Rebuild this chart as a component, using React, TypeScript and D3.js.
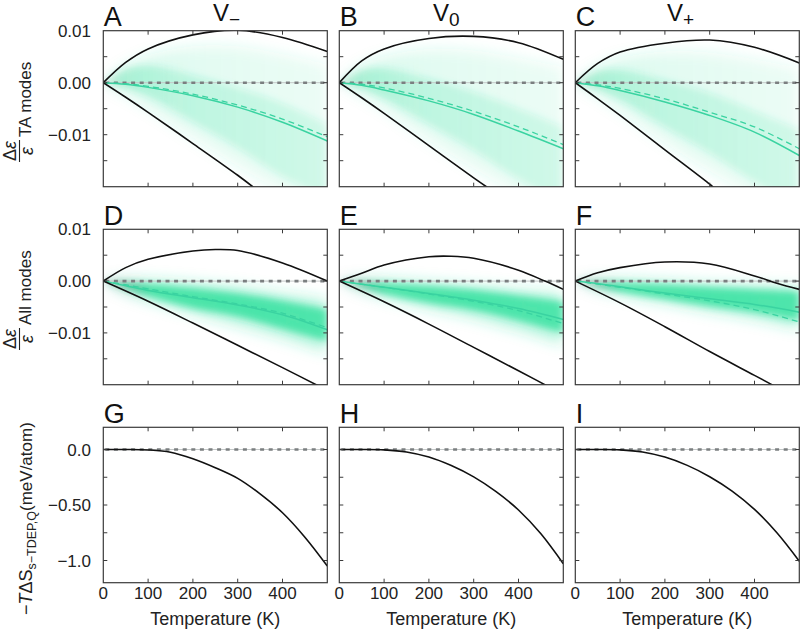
import React from 'react';
import * as d3 from 'd3';

type Pt = [number, number];

// ---------------- data ----------------
const tempTicks = [0, 100, 200, 300, 400, 500];
const tempTickLabels = ['0', '100', '200', '300', '400'];
const strainTicks = [-0.015, -0.01, -0.005, 0, 0.005];
const strainLabelValues = [0.01, 0, -0.01];
const strainLabels = ['0.01', '0.00', '−0.01'];
const entropyTicks = [-1.0, -0.75, -0.5, -0.25, 0];
const entropyLabelValues = [0, -0.5, -1.0];
const entropyLabels = ['0.0', '−0.50', '−1.0'];
const panelLetters = ['A', 'B', 'C', 'D', 'E', 'F', 'G', 'H', 'I'];
const volumeSubscripts = ['−', '0', '+'];
const modeLabels = ['TA modes', 'All modes'];

// TA modes (row 1)
const upperA: Pt[] = [[0, 0], [50, 0.0039], [100, 0.0065], [200, 0.0092], [300, 0.0101], [400, 0.0087], [500, 0.006]];
const lowerA: Pt[] = [[0, 0], [50, -0.0028], [100, -0.0057], [200, -0.0117], [300, -0.0178], [335, -0.0201]];
const meanA: Pt[] = [[0, 0], [50, -0.0003], [100, -0.0009], [200, -0.0025], [300, -0.0047], [400, -0.0076], [500, -0.0112]];
const meanDashA: Pt[] = [[0, 0], [50, -0.0002], [100, -0.0007], [200, -0.0022], [300, -0.0043], [400, -0.007], [500, -0.0104]];
const outerHiA: Pt[] = [[0, 0], [50, 0.0032], [100, 0.0052], [200, 0.007], [300, 0.007], [400, 0.0055], [500, 0.0035]];
const outerLoA: Pt[] = [[0, 0], [50, -0.0022], [100, -0.0048], [200, -0.0105], [300, -0.016], [400, -0.021], [500, -0.025]];
const coreHiA: Pt[] = [[0, 0], [50, 0.0027], [100, 0.0032], [200, 0.0015], [300, -0.001], [400, -0.004], [500, -0.008]];
const coreLoA: Pt[] = [[0, 0], [50, -0.001], [100, -0.0025], [200, -0.0075], [300, -0.0125], [400, -0.018], [500, -0.022]];

const upperB: Pt[] = [[0, 0], [50, 0.0042], [100, 0.0065], [200, 0.0085], [300, 0.0089], [400, 0.0077], [500, 0.0045]];
const lowerB: Pt[] = [[0, 0], [50, -0.0029], [100, -0.0059], [200, -0.0121], [300, -0.0183], [330, -0.0201]];
const meanB: Pt[] = [[0, 0], [50, -0.0005], [100, -0.0014], [200, -0.0035], [300, -0.0061], [400, -0.0093], [500, -0.0127]];
const meanDashB: Pt[] = [[0, 0], [50, -0.0003], [100, -0.001], [200, -0.003], [300, -0.0055], [400, -0.0085], [500, -0.0119]];
const outerHiB: Pt[] = [[0, 0], [50, 0.0033], [100, 0.005], [200, 0.0065], [300, 0.0062], [400, 0.0048], [500, 0.003]];
const outerLoB: Pt[] = [[0, 0], [50, -0.0023], [100, -0.005], [200, -0.011], [300, -0.0165], [400, -0.0215], [500, -0.026]];
const coreHiB: Pt[] = [[0, 0], [50, 0.0024], [100, 0.0027], [200, 0.0008], [300, -0.0018], [400, -0.005], [500, -0.0085]];
const coreLoB: Pt[] = [[0, 0], [50, -0.0012], [100, -0.003], [200, -0.008], [300, -0.013], [400, -0.0185], [500, -0.023]];

const upperC: Pt[] = [[0, 0], [50, 0.0037], [100, 0.0059], [200, 0.0076], [300, 0.0082], [400, 0.0068], [500, 0.0038]];
const lowerC: Pt[] = [[0, 0], [50, -0.0031], [100, -0.0063], [200, -0.0129], [300, -0.0195], [308, -0.0201]];
const meanC: Pt[] = [[0, 0], [50, -0.0006], [100, -0.0015], [200, -0.0037], [300, -0.0063], [400, -0.0095], [500, -0.014]];
const meanDashC: Pt[] = [[0, 0], [50, -0.0004], [100, -0.0011], [200, -0.0031], [300, -0.0057], [400, -0.0085], [500, -0.0127]];
const outerHiC: Pt[] = [[0, 0], [50, 0.003], [100, 0.0047], [200, 0.006], [300, 0.0058], [400, 0.0045], [500, 0.0028]];
const outerLoC: Pt[] = [[0, 0], [50, -0.0025], [100, -0.0053], [200, -0.0115], [300, -0.017], [400, -0.022], [500, -0.027]];
const coreHiC: Pt[] = [[0, 0], [50, 0.0022], [100, 0.0024], [200, 0.0005], [300, -0.002], [400, -0.0055], [500, -0.009]];
const coreLoC: Pt[] = [[0, 0], [50, -0.0013], [100, -0.0032], [200, -0.0085], [300, -0.0135], [400, -0.019], [500, -0.024]];

// All modes (row 2)
const upperD: Pt[] = [[0, 0], [50, 0.0026], [100, 0.0042], [200, 0.0058], [250, 0.0061], [300, 0.0059], [400, 0.0035], [500, 0.0]];
const lowerD: Pt[] = [[0, 0], [100, -0.0039], [200, -0.0081], [300, -0.0124], [400, -0.0167], [500, -0.0211]];
const meanD: Pt[] = [[0, 0], [50, -0.0009], [100, -0.0018], [200, -0.0032], [300, -0.0046], [400, -0.0065], [500, -0.0094]];
const meanDashD: Pt[] = [[0, 0], [50, -0.0007], [100, -0.0015], [200, -0.003], [300, -0.0044], [400, -0.0062], [500, -0.009]];
const outerHiD: Pt[] = [[0, 0], [50, 0.0004], [100, 0.0003], [200, -0.0003], [300, -0.0011], [400, -0.0024], [500, -0.0037]];
const outerLoD: Pt[] = [[0, 0], [50, -0.0022], [100, -0.0037], [200, -0.0062], [300, -0.0085], [400, -0.011], [500, -0.0138]];
const coreHiD: Pt[] = [[0, 0], [50, -0.0003], [100, -0.0006], [200, -0.0014], [300, -0.0024], [400, -0.0038], [500, -0.0055]];
const coreLoD: Pt[] = [[0, 0], [50, -0.0015], [100, -0.0029], [200, -0.0052], [300, -0.0068], [400, -0.0092], [500, -0.0116]];

const upperE: Pt[] = [[0, 0], [50, 0.0015], [100, 0.0031], [200, 0.0047], [250, 0.0048], [300, 0.0044], [400, 0.0021], [459, 0.0], [500, -0.0016]];
const lowerE: Pt[] = [[0, 0], [100, -0.004], [200, -0.0083], [300, -0.0128], [400, -0.0173], [500, -0.0219]];
const meanE: Pt[] = [[0, 0], [50, -0.0006], [100, -0.0012], [200, -0.0024], [300, -0.0037], [400, -0.0053], [500, -0.0074]];
const meanDashE: Pt[] = [[0, 0], [50, -0.0006], [100, -0.0012], [200, -0.0025], [300, -0.0039], [400, -0.0057], [500, -0.0082]];
const outerHiE: Pt[] = [[0, 0], [50, 0.0004], [100, 0.0004], [200, -0.0002], [300, -0.0008], [400, -0.0016], [500, -0.0024]];
const outerLoE: Pt[] = [[0, 0], [50, -0.0018], [100, -0.0031], [200, -0.0052], [300, -0.0071], [400, -0.0095], [500, -0.0122]];
const coreHiE: Pt[] = [[0, 0], [50, -0.0002], [100, -0.0004], [200, -0.001], [300, -0.0017], [400, -0.0028], [500, -0.004]];
const coreLoE: Pt[] = [[0, 0], [50, -0.0012], [100, -0.0024], [200, -0.0042], [300, -0.0056], [400, -0.0076], [500, -0.01]];

const upperF: Pt[] = [[0, 0], [50, 0.0016], [100, 0.0026], [200, 0.0037], [300, 0.0033], [400, 0.001], [450, -0.0004], [500, -0.0016]];
const lowerF: Pt[] = [[0, 0], [100, -0.0042], [200, -0.0088], [300, -0.0136], [400, -0.0182], [500, -0.0228]];
const meanF: Pt[] = [[0, 0], [50, -0.0005], [100, -0.0011], [200, -0.0023], [300, -0.0034], [400, -0.0045], [500, -0.006]];
const meanDashF: Pt[] = [[0, 0], [50, -0.0006], [100, -0.0012], [200, -0.0025], [300, -0.0038], [400, -0.0055], [500, -0.0079]];
const outerHiF: Pt[] = [[0, 0], [50, 0.0004], [100, 0.0004], [200, 0.0], [300, -0.0005], [400, -0.0008], [500, -0.0011]];
const outerLoF: Pt[] = [[0, 0], [50, -0.0016], [100, -0.0026], [200, -0.0042], [300, -0.0058], [400, -0.0073], [500, -0.0092]];
const coreHiF: Pt[] = [[0, 0], [50, -0.0002], [100, -0.0003], [200, -0.0007], [300, -0.0012], [400, -0.0016], [500, -0.002]];
const coreLoF: Pt[] = [[0, 0], [50, -0.0011], [100, -0.002], [200, -0.0034], [300, -0.0048], [400, -0.006], [500, -0.0076]];

// Entropy (row 3)
const entropyG: Pt[] = [[0, 0], [50, 0], [100, -0.004], [150, -0.024], [200, -0.083], [250, -0.164], [300, -0.26], [350, -0.4], [400, -0.57], [450, -0.79], [500, -1.05]];
const entropyH: Pt[] = [[0, 0], [50, 0], [100, -0.003], [150, -0.022], [200, -0.068], [250, -0.145], [300, -0.247], [350, -0.38], [400, -0.545], [450, -0.76], [500, -1.03]];
const entropyI: Pt[] = [[0, 0], [50, 0], [100, -0.003], [150, -0.022], [200, -0.068], [250, -0.143], [300, -0.245], [350, -0.375], [400, -0.54], [450, -0.75], [500, -1.006]];

// ---------------- layout ----------------
const W = 224;
const colX = [103.3, 339.3, 575.3];
const rowY = [30.7, 229.3, 427.3];
const rowH = [156, 155.4, 155.4];
const fracCenter = [151, 339];
const titleX = [213, 433, 667];
const FONT = 'Liberation Sans, Arial, sans-serif';
const GREEN = '#2ee09c';
const LINE_GREEN = '#3ad3a1';
const FRAME = '#3a3a3a';
const curve = d3.curveCatmullRom.alpha(0.5);

interface EpsPanel {
  upper: Pt[]; lower: Pt[]; mean: Pt[]; meanDash: Pt[];
  outerHi: Pt[]; outerLo: Pt[]; coreHi: Pt[]; coreLo: Pt[];
}

const epsPanels: EpsPanel[][] = [
  [
    { upper: upperA, lower: lowerA, mean: meanA, meanDash: meanDashA, outerHi: outerHiA, outerLo: outerLoA, coreHi: coreHiA, coreLo: coreLoA },
    { upper: upperB, lower: lowerB, mean: meanB, meanDash: meanDashB, outerHi: outerHiB, outerLo: outerLoB, coreHi: coreHiB, coreLo: coreLoB },
    { upper: upperC, lower: lowerC, mean: meanC, meanDash: meanDashC, outerHi: outerHiC, outerLo: outerLoC, coreHi: coreHiC, coreLo: coreLoC },
  ],
  [
    { upper: upperD, lower: lowerD, mean: meanD, meanDash: meanDashD, outerHi: outerHiD, outerLo: outerLoD, coreHi: coreHiD, coreLo: coreLoD },
    { upper: upperE, lower: lowerE, mean: meanE, meanDash: meanDashE, outerHi: outerHiE, outerLo: outerLoE, coreHi: coreHiE, coreLo: coreLoE },
    { upper: upperF, lower: lowerF, mean: meanF, meanDash: meanDashF, outerHi: outerHiF, outerLo: outerLoF, coreHi: coreHiF, coreLo: coreLoF },
  ],
];
const entropyPanels = [entropyG, entropyH, entropyI];

function Frame({ x, y, xTicks, yTicks }: { x: d3.ScaleLinear<number, number>; y: d3.ScaleLinear<number, number>; xTicks: number[]; yTicks: number[] }) {
  const [x0, x1] = x.range();
  const [y1, y0] = y.range();
  const L = 4;
  return (
    <g stroke={FRAME} strokeWidth={1}>
      {xTicks.map((t, i) => (
        <g key={'x' + i}>
          <line x1={x(t)} x2={x(t)} y1={y1} y2={y1 - L} />
          <line x1={x(t)} x2={x(t)} y1={y0} y2={y0 + L} />
        </g>
      ))}
      {yTicks.map((t, i) => (
        <g key={'y' + i}>
          <line x1={x0} x2={x0 + L} y1={y(t)} y2={y(t)} />
          <line x1={x1} x2={x1 - L} y1={y(t)} y2={y(t)} />
        </g>
      ))}
      <rect x={x0} y={y0} width={x1 - x0} height={y1 - y0} fill="none" strokeWidth={1.2} />
    </g>
  );
}

function ZeroLine({ x, yv }: { x: d3.ScaleLinear<number, number>; yv: number }) {
  const [x0, x1] = x.range();
  return (
    <g>
      <line x1={x0} x2={x1} y1={yv} y2={yv} stroke="#c4c8c8" strokeWidth={1} />
      <line x1={x0 + 2} x2={x1} y1={yv} y2={yv} stroke="#7b7f80" strokeWidth={2.6} strokeDasharray="4 4.6" />
    </g>
  );
}

export default function App() {
  const xScales = colX.map((x0) => d3.scaleLinear().domain([0, 500]).range([x0, x0 + W]));
  const yEps = [0, 1].map((r) => d3.scaleLinear().domain([-0.02, 0.01]).range([rowY[r] + rowH[r], rowY[r]]));
  const yEnt = d3.scaleLinear().domain([-1.2, 0.2]).range([rowY[2] + rowH[2], rowY[2]]);

  return (
    <svg width={802} height={630} style={{ position: 'absolute', left: 0, top: 0, background: '#fff' }} fontFamily={FONT}>
      <defs>
        <filter id="blurOuter" x="-30%" y="-60%" width="160%" height="220%">
          <feGaussianBlur stdDeviation={7} />
        </filter>
        <filter id="blurCore" x="-30%" y="-60%" width="160%" height="220%">
          <feGaussianBlur stdDeviation={3.5} />
        </filter>
        {[0, 1].map((r) =>
          colX.map((x0, c) => (
            <linearGradient key={`g${r}${c}`} id={`grad${r}${c}`} gradientUnits="userSpaceOnUse" x1={x0} x2={x0 + W} y1={0} y2={0}>
              <stop offset="0" stopColor="#1e3c34" stopOpacity={1} />
              <stop offset="0.04" stopColor={r === 0 ? '#20cc88' : '#2a9d74'} stopOpacity={1} />
              <stop offset={r === 0 ? '0.15' : '0.22'} stopColor={GREEN} stopOpacity={1} />
              <stop offset="0.4" stopColor={GREEN} stopOpacity={r === 0 ? 0.75 : 1} />
              <stop offset="1" stopColor={GREEN} stopOpacity={r === 0 ? 0.55 : 0.95} />
            </linearGradient>
          ))
        )}
        {[0, 1, 2].map((r) =>
          colX.map((x0, c) => (
            <clipPath key={`c${r}${c}`} id={`clip${r}${c}`}>
              <rect x={x0} y={rowY[r]} width={W} height={rowH[r]} />
            </clipPath>
          ))
        )}
      </defs>

      {/* strain rows */}
      {epsPanels.map((row, r) =>
        row.map((p, c) => {
          const x = xScales[c];
          const y = yEps[r];
          const line = d3.line<Pt>().x((d) => x(d[0])).y((d) => y(d[1])).curve(curve);
          const band = (hi: Pt[], lo: Pt[]) =>
            d3.area<number>()
              .x((i) => x(hi[i][0]))
              .y0((i) => y(lo[i][1]))
              .y1((i) => y(hi[i][1]))
              .curve(curve)(hi.map((_, i) => i)) || '';
          return (
            <g key={`p${r}${c}`}>
              <g clipPath={`url(#clip${r}${c})`}>
                <g filter="url(#blurOuter)">
                  <path d={band(p.outerHi, p.outerLo)} fill={`url(#grad${r}${c})`} opacity={r === 0 ? 0.18 : 0.35} />
                </g>
                <g filter="url(#blurCore)">
                  <path d={band(p.coreHi, p.coreLo)} fill={`url(#grad${r}${c})`} opacity={r === 0 ? 0.26 : 0.8} />
                </g>
                <ZeroLine x={x} yv={y(0)} />
                <path d={line(p.meanDash) || ''} fill="none" stroke={LINE_GREEN} strokeWidth={1.3} strokeDasharray="6 4" />
                <path d={line(p.mean) || ''} fill="none" stroke={LINE_GREEN} strokeWidth={1.5} />
                <path d={line(p.upper) || ''} fill="none" stroke="#111" strokeWidth={1.6} />
                <path d={line(p.lower) || ''} fill="none" stroke="#111" strokeWidth={1.6} />
              </g>
              <Frame x={x} y={y} xTicks={tempTicks.slice(1, 5)} yTicks={strainTicks} />
              {c === 0 &&
                strainLabelValues.map((v, i) => (
                  <text key={i} x={91} y={y(v) + 6} fontSize={17} textAnchor="end" fill="#222">
                    {strainLabels[i]}
                  </text>
                ))}
            </g>
          );
        })
      )}

      {/* entropy row */}
      {entropyPanels.map((data, c) => {
        const x = xScales[c];
        const line = d3.line<Pt>().x((d) => x(d[0])).y((d) => yEnt(d[1])).curve(curve);
        return (
          <g key={`e${c}`}>
            <g clipPath={`url(#clip2${c})`}>
              <ZeroLine x={x} yv={yEnt(0)} />
              <path d={line(data) || ''} fill="none" stroke="#111" strokeWidth={1.6} />
            </g>
            <Frame x={x} y={yEnt} xTicks={tempTicks.slice(1, 5)} yTicks={entropyTicks} />
            {tempTickLabels.map((lab, i) => (
              <text key={i} x={x(tempTicks[i])} y={599} fontSize={17} textAnchor="middle" fill="#222">
                {lab}
              </text>
            ))}
            <text x={(x.range()[0] + x.range()[1]) / 2} y={625} fontSize={18} textAnchor="middle" fill="#222">
              Temperature (K)
            </text>
            {c === 0 &&
              entropyLabelValues.map((v, i) => (
                <text key={i} x={91} y={yEnt(v) + 6} fontSize={17} textAnchor="end" fill="#222">
                  {entropyLabels[i]}
                </text>
              ))}
          </g>
        );
      })}

      {/* panel letters */}
      {panelLetters.map((l, i) => (
        <text key={l} x={colX[i % 3] + 0.5} y={rowY[Math.floor(i / 3)] - 4.7} fontSize={27} fill="#111">
          {l}
        </text>
      ))}

      {/* column titles */}
      {volumeSubscripts.map((s, i) => (
        <text key={i} x={titleX[i]} y={21} fontSize={24} fill="#111">
          V
          <tspan fontSize={19} dy={5}>{s}</tspan>
        </text>
      ))}

      {/* row labels for strain rows */}
      {modeLabels.map((lab, r) => {
        const fc = fracCenter[r];
        return (
          <g key={lab} transform="rotate(-90)" fill="#222">
            <text x={-(fc - 14)} y={31} fontSize={17}>{lab}</text>
            <text x={-fc} y={16} fontSize={18} textAnchor="middle">
              Δ<tspan fontStyle="italic">ε</tspan>
            </text>
            <line x1={-fc - 11} x2={-fc + 11} y1={19.5} y2={19.5} stroke="#222" strokeWidth={1.1} />
            <text x={-fc} y={32.5} fontSize={18} fontStyle="italic" textAnchor="middle">ε</text>
          </g>
        );
      })}

      {/* row label entropy */}
      <g transform="rotate(-90)" fill="#222">
        <text x={-615} y={32} fontSize={18}>
          −<tspan fontStyle="italic">T</tspan>ΔS
          <tspan fontSize={12.5} dy={4}>s−TDEP,Q</tspan>
          <tspan fontSize={17} dy={-4}>(meV/atom)</tspan>
        </text>
      </g>
    </svg>
  );
}
